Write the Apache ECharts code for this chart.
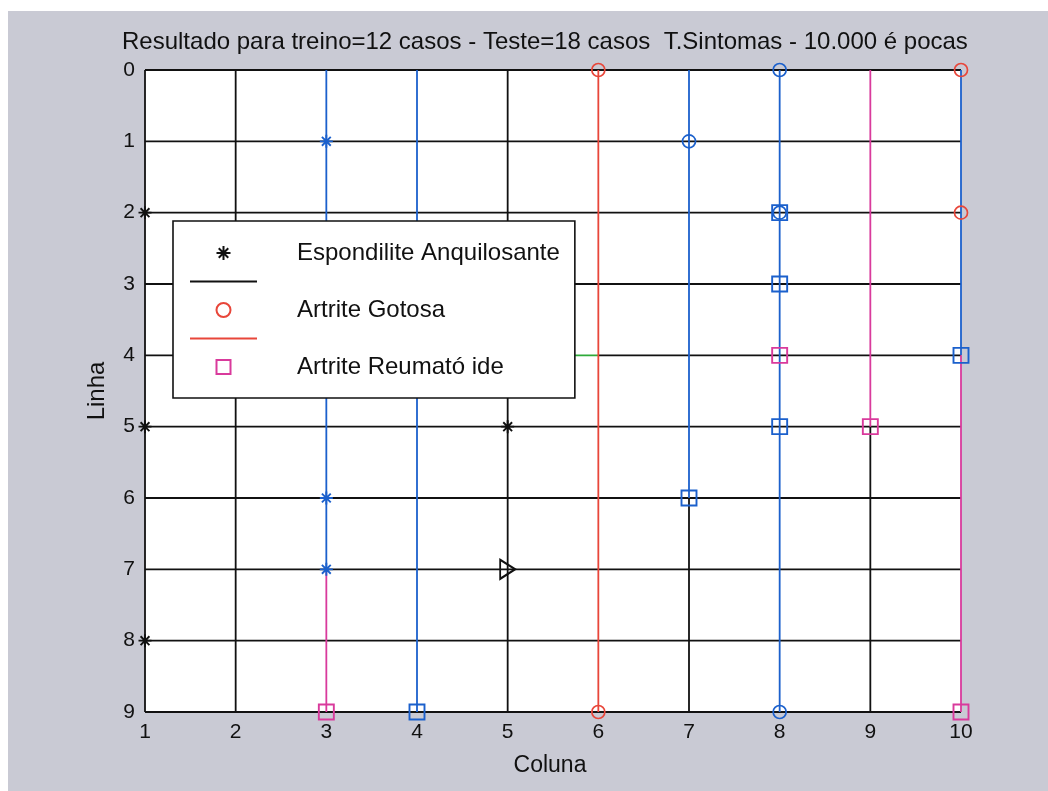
<!DOCTYPE html>
<html><head><meta charset="utf-8">
<script src="https://cdn.jsdelivr.net/npm/echarts@6/dist/echarts.min.js"></script>
<style>html,body{margin:0;padding:0;background:#fff}#main{width:1048px;height:791px}</style>
</head><body><div id="main"></div>
<script>
// ---- data ----
const titleText = 'Resultado para treino=12 casos - Teste=18 casos  T.Sintomas - 10.000 é pocas';
const xName = 'Coluna';
const yName = 'Linha';
const legendNames = ['Espondilite Anquilosante', ' ', 'Artrite Gotosa', '  ', 'Artrite Reumató ide'];

// horizontal segments [row, colFrom, colTo]
const blackRows = [[0,1,10],[1,1,10],[2,1,10],[3,1,10],[4,1,5],[4,6,10],[5,1,10],[6,1,10],[7,1,10],[8,1,10],[9,1,10]];
const greenRows = [[4,5,6]];
// vertical segments [col, rowFrom, rowTo]
const blackCols = [[1,0,9],[2,0,9],[5,0,9],[7,6,9],[9,5,9]];
const blueCols = [[3,0,7],[4,0,9],[7,0,6],[8,0,9],[10,0,4]];
const redCols = [[6,0,9]];
const magentaCols = [[3,7,9],[9,0,5],[10,4,9]];

// markers [col, row]
const espAsterisk = [[1,2],[1,5],[1,8],[5,5]];
const blueAsterisk = [[3,1],[3,6],[3,7]];
const blackTriangle = [[5,7]];
const redCircle = [[6,0],[6,9],[10,0],[10,2]];
const blueCircle = [[8,0],[7,1],[8,2],[8,9]];
const blueSquare = [[8,2],[8,3],[8,5],[7,6],[4,9],[10,4]];
const magentaSquare = [[8,4],[9,5],[3,9],[10,9]];

// ---- styles ----
const C = {black:'#111', blue:'#1b60cc', red:'#e8463a', magenta:'#d93a9c', green:'#2eaa3a'};
const FONT = '"Liberation Sans", Arial, sans-serif';
const ASTER = 'path://M5,0L5,10M0,5L10,5M1.6,1.6L8.4,8.4M8.4,1.6L1.6,8.4';
const SQUARE = 'path://M0,0H10V10H0Z';
const TRI = 'path://M0,0L10,5L0,10Z';
const LINEICON = 'path://M0,0H67V1.8H0Z';
const LW = 1.8;

const series = [];
function hSeg(list, color, name) {
  list.forEach(s => series.push({
    type:'line', name: name, data:[[s[1], s[0]], [s[2], s[0]]],
    symbol:'none', showSymbol:false, silent:true, z:2,
    lineStyle:{color:color, width:LW}, itemStyle:{color:color}
  }));
}
function vSeg(list, color, name) {
  list.forEach(s => series.push({
    type:'line', name: name, data:[[s[0], s[1]], [s[0], s[2]]],
    symbol:'none', showSymbol:false, silent:true, z:2,
    lineStyle:{color:color, width:LW}, itemStyle:{color:color}
  }));
}
hSeg(blackRows, C.black, legendNames[1]);
hSeg(greenRows, C.green);
vSeg(blackCols, C.black);
vSeg(blueCols, C.blue);
vSeg(redCols, C.red, legendNames[3]);
vSeg(magentaCols, C.magenta);

function scat(data, symbol, size, color, fill, bw, name) {
  series.push({
    type:'scatter', name: name, data: data, symbol: symbol, symbolSize: size,
    clip:false, silent:true, z:5,
    itemStyle:{color: fill, borderColor: color, borderWidth: bw, opacity:1}
  });
}
scat(espAsterisk, ASTER, 13, C.black, C.black, 1.9, legendNames[0]);
scat(blueAsterisk, ASTER, 13, C.blue, C.blue, 1.9);
scat(blackTriangle, TRI, [15,19], C.black, 'rgba(0,0,0,0)', 2);
scat(redCircle, 'circle', 13, C.red, 'rgba(0,0,0,0)', 1.7, legendNames[2]);
scat(blueCircle, 'circle', 13, C.blue, 'rgba(0,0,0,0)', 1.7);
scat(blueSquare, SQUARE, 15, C.blue, 'rgba(0,0,0,0)', 1.9);
scat(magentaSquare, SQUARE, 15, C.magenta, 'rgba(0,0,0,0)', 1.9, legendNames[4]);

const legendData = [
  {name: legendNames[0]},
  {name: legendNames[1], icon: LINEICON, itemStyle:{color:C.black, borderWidth:0}},
  {name: legendNames[2]},
  {name: legendNames[3], icon: LINEICON, itemStyle:{color:C.red, borderWidth:0}},
  {name: legendNames[4]}
];

const chart = echarts.init(document.getElementById('main'), null, {renderer:'canvas'});
chart.setOption({
  animation:false,
  backgroundColor:'#fff',
  graphic:[{type:'rect', left:8, top:11, shape:{width:1040, height:780}, style:{fill:'#c9cad4'}, z:-100, silent:true}],
  title:{text:titleText, left:122, top:30, padding:0,
    textStyle:{fontFamily:FONT, fontSize:24, fontWeight:'normal', color:'#111'}},
  grid:{left:145, top:70, width:816, height:642, show:true, backgroundColor:'#fff', borderWidth:0, containLabel:false},
  xAxis:{type:'value', min:1, max:10, interval:1, position:'bottom',
    name:xName, nameLocation:'middle', nameGap:42,
    nameTextStyle:{fontFamily:FONT, fontSize:23, color:'#111', padding:[0,6,0,0]},
    axisLine:{show:false, onZero:false}, axisTick:{show:false}, splitLine:{show:false},
    axisLabel:{fontFamily:FONT, fontSize:21, color:'#111', margin:10}},
  yAxis:{type:'value', min:0, max:9, interval:1, inverse:true,
    name:yName, nameLocation:'middle', nameGap:36, nameRotate:90,
    nameTextStyle:{fontFamily:FONT, fontSize:24, color:'#111'},
    axisLine:{show:false, onZero:false}, axisTick:{show:false}, splitLine:{show:false},
    axisLabel:{fontFamily:FONT, fontSize:21, color:'#111', margin:10}},
  legend:{data:legendData, orient:'vertical', left:173, top:221,
    padding:[18,15,17,17], itemGap:0.5, itemWidth:67, itemHeight:14,
    backgroundColor:'#fff', borderColor:'#111', borderWidth:1.6, borderRadius:0,
    selectedMode:false, symbolKeepAspect:true,
    textStyle:{fontFamily:FONT, fontSize:24, color:'#111', lineHeight:28, padding:[0,0,0,35]}},
  series: series
});
</script></body></html>
